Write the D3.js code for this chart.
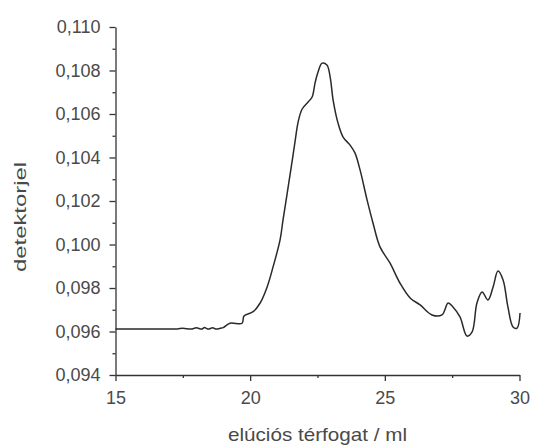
<html>
<head>
<meta charset="UTF-8">
<title>detektorjel</title>
<script src="https://d3js.org/d3.v7.min.js"></script>
<style>
body { margin: 0; background: #fff; }
.axis path, .axis line { stroke: #333; stroke-width: 1.3; }
.axis text { font-family: "Liberation Sans", Arial, sans-serif; font-size: 18px; fill: #4a4a4a; }
</style>
</head>
<body>
<svg width="533" height="446"></svg>
<script>
// elúciós térfogat (ml)
var volume = [15.0, 16.0, 17.0, 17.3, 17.5, 17.8, 18.0, 18.2, 18.3, 18.45, 18.6, 18.75, 18.9, 19.0,
  19.25, 19.7, 19.77, 20.11, 20.37, 20.63, 20.85, 21.11, 21.22, 21.37, 21.52, 21.67, 21.78, 21.93,
  22.15, 22.3, 22.41, 22.52, 22.67, 22.85, 22.97, 23.08, 23.26, 23.45, 23.71, 23.89, 24.08, 24.34,
  24.56, 24.82, 25.19, 25.56, 25.94, 26.31, 26.75, 27.12, 27.35, 27.53, 27.79, 28.05, 28.24, 28.42,
  28.61, 28.83, 29.02, 29.2, 29.39, 29.57, 29.76, 29.91, 30.02];
// detektorjel
var signal = [0.09612, 0.09612, 0.09612, 0.09612, 0.09615, 0.09611, 0.09617, 0.09611, 0.09618, 0.09611, 0.09617, 0.09611, 0.09615, 0.09618,
  0.09638, 0.09638, 0.09671, 0.09691, 0.09731, 0.09805, 0.09897, 0.10021, 0.10113, 0.10232, 0.10352, 0.10476, 0.10563, 0.10623,
  0.10655, 0.10678, 0.10743, 0.10793, 0.10834, 0.10825, 0.10770, 0.10664, 0.10559, 0.10494, 0.10457, 0.10421, 0.10343, 0.10205,
  0.10099, 0.09989, 0.09915, 0.09823, 0.09754, 0.09722, 0.09676, 0.09676, 0.09731, 0.09713, 0.09667, 0.09579, 0.09598, 0.09731,
  0.09782, 0.09745, 0.09805, 0.09878, 0.09837, 0.09713, 0.09621, 0.09616, 0.09685];

var xTicks = [15, 20, 25, 30];
var xMinor = [17.5, 22.5, 27.5];
var yTicks = [0.094, 0.096, 0.098, 0.100, 0.102, 0.104, 0.106, 0.108, 0.110];
var yMinor = [0.095, 0.097, 0.099, 0.101, 0.103, 0.105, 0.107, 0.109];
var xTitle = "elúciós térfogat / ml";
var yTitle = "detektorjel";

var svg = d3.select("svg");
var x = d3.scaleLinear().domain([15, 30]).range([115.5, 519.5]);
var y = d3.scaleLinear().domain([0.094, 0.110]).range([375, 27]);
var fmt = function(d) { return d3.format(".3f")(d).replace(".", ","); };

// minor ticks
svg.append("g").attr("class", "axis")
  .attr("transform", "translate(0,375)")
  .call(d3.axisBottom(x).tickValues(xMinor).tickSize(3).tickFormat(""))
  .select(".domain").remove();
svg.append("g").attr("class", "axis")
  .attr("transform", "translate(115.5,0)")
  .call(d3.axisLeft(y).tickValues(yMinor).tickSize(3).tickFormat(""))
  .select(".domain").remove();

// major axes
var xAxis = svg.append("g").attr("class", "axis")
  .attr("transform", "translate(0,375)")
  .call(d3.axisBottom(x).tickValues(xTicks).tickSizeInner(6).tickSizeOuter(0).tickPadding(10));
xAxis.selectAll("text").attr("dy", "0.71em");

var yAxis = svg.append("g").attr("class", "axis")
  .attr("transform", "translate(115.5,0)")
  .call(d3.axisLeft(y).tickValues(yTicks).tickFormat(fmt).tickSizeInner(6).tickSizeOuter(0).tickPadding(9));

// curve
var pts = volume.map(function(v, i) { return [v, signal[i]]; });
svg.append("path")
  .datum(pts)
  .attr("fill", "none")
  .attr("stroke", "#2a2a2a")
  .attr("stroke-width", 1.5)
  .attr("d", d3.line().x(function(d) { return x(d[0]); }).y(function(d) { return y(d[1]); })
    .curve(d3.curveCatmullRom));

// titles
svg.append("text")
  .attr("x", 317.5).attr("y", 441)
  .attr("text-anchor", "middle")
  .attr("textLength", 179).attr("lengthAdjust", "spacingAndGlyphs")
  .style("font-family", '"Liberation Sans", Arial, sans-serif')
  .style("font-size", "19px").style("fill", "#4a4a4a")
  .text(xTitle);

svg.append("text")
  .attr("transform", "translate(26,217) rotate(-90)")
  .attr("text-anchor", "middle")
  .attr("textLength", 110).attr("lengthAdjust", "spacingAndGlyphs")
  .style("font-family", '"Liberation Sans", Arial, sans-serif')
  .style("font-size", "17px").style("fill", "#4a4a4a")
  .text(yTitle);
</script>
</body>
</html>
